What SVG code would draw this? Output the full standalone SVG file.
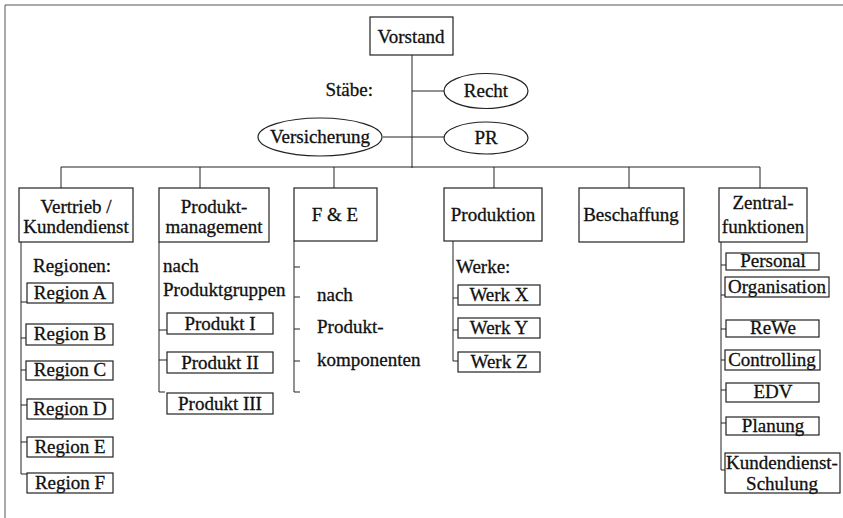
<svg xmlns="http://www.w3.org/2000/svg" width="843" height="518" viewBox="0 0 843 518">
<style>
text{font-family:"Liberation Serif","Times New Roman",serif;font-size:19px;fill:#111;stroke:#111;stroke-width:0.3}
.c{text-anchor:middle}
.b{fill:#fff;stroke:#222;stroke-width:1.2}
.l{fill:none;stroke:#222;stroke-width:1}
.f{fill:none;stroke:#555;stroke-width:1}
</style>
<rect width="843" height="518" fill="#fff"/>
<g id="frame"><path class="f" d="M5 518V5H843"/></g>
<g id="connectors">
<path class="l" d="M412 55V168M412 91H444M383 137H444"/>
<path class="l" d="M61 188V167H760V188M200 167V188M334 167V188M494 167V188M629 167V188"/>
<path class="l" d="M21 242V474M21 302H27M21 338H26M21 370H26M21 405H27M21 442H27M21 474H27"/>
<path class="l" d="M159 242V392H165M159 330H167M159 360H167"/>
<path class="l" d="M294 241V392H300M294 267H300M294 297H300M294 329H300M294 361H300"/>
<path class="l" d="M453 241V361H458M453 298H458M453 330H458"/>
<path class="l" d="M721 242V470H725M721 265H726M721 295H725M721 329H726M721 360H725M721 390H726M721 423H726"/>
</g>
<g id="vorstand"><rect class="b" x="370" y="17" width="83" height="38"/><text class="c" x="411" y="43">Vorstand</text></g>
<g id="staebe"><text x="373" y="96" text-anchor="end">Stäbe:</text></g>
<g id="recht"><ellipse class="b" cx="486" cy="91" rx="42" ry="17.5"/><text class="c" x="486" y="97">Recht</text></g>
<g id="versicherung"><ellipse class="b" cx="320" cy="137" rx="62" ry="19"/><text class="c" x="320" y="143">Versicherung</text></g>
<g id="pr"><ellipse class="b" cx="486" cy="138" rx="42" ry="16"/><text class="c" x="486" y="144">PR</text></g>

<g id="vertrieb"><rect class="b" x="19" y="188" width="114" height="54"/><text class="c" x="76" y="213">Vertrieb /</text><text class="c" x="76" y="233">Kundendienst</text></g>
<g id="produktmanagement"><rect class="b" x="159" y="188" width="110" height="54"/><text class="c" x="214" y="213">Produkt-</text><text class="c" x="214" y="233">management</text></g>
<g id="fe"><rect class="b" x="294" y="188" width="83" height="53"/><text class="c" x="335" y="221">F &amp; E</text></g>
<g id="produktion"><rect class="b" x="444" y="188" width="98" height="53"/><text class="c" x="493" y="221">Produktion</text></g>
<g id="beschaffung"><rect class="b" x="579" y="188" width="105" height="54"/><text class="c" x="631" y="221">Beschaffung</text></g>
<g id="zentralfunktionen"><rect class="b" x="719" y="188" width="88" height="54"/><text class="c" x="763" y="209">Zentral-</text><text class="c" x="763" y="233">funktionen</text></g>

<g id="regionen-label"><text x="33" y="272">Regionen:</text></g>
<g id="region-a"><rect class="b" x="27" y="283" width="86" height="20"/><text class="c" x="70" y="299">Region A</text></g>
<g id="region-b"><rect class="b" x="26" y="324" width="87" height="21"/><text class="c" x="70" y="340">Region B</text></g>
<g id="region-c"><rect class="b" x="26" y="361" width="87" height="19"/><text class="c" x="70" y="376">Region C</text></g>
<g id="region-d"><rect class="b" x="27" y="399" width="86" height="20"/><text class="c" x="70" y="415">Region D</text></g>
<g id="region-e"><rect class="b" x="27" y="437" width="86" height="20"/><text class="c" x="70" y="453">Region E</text></g>
<g id="region-f"><rect class="b" x="27" y="473" width="86" height="20"/><text class="c" x="70" y="489">Region F</text></g>

<g id="pm-label"><text x="163" y="272">nach</text><text x="163" y="296">Produktgruppen</text></g>
<g id="produkt-1"><rect class="b" x="167" y="313" width="106" height="21"/><text class="c" x="220" y="330">Produkt I</text></g>
<g id="produkt-2"><rect class="b" x="167" y="352" width="106" height="21"/><text class="c" x="220" y="369">Produkt II</text></g>
<g id="produkt-3"><rect class="b" x="167" y="393" width="106" height="21"/><text class="c" x="220" y="410">Produkt III</text></g>

<g id="fe-label"><text x="317" y="301">nach</text><text x="317" y="333">Produkt-</text><text x="317" y="366">komponenten</text></g>

<g id="werke-label"><text x="456" y="273">Werke:</text></g>
<g id="werk-x"><rect class="b" x="458" y="285" width="82" height="20"/><text class="c" x="499" y="301">Werk X</text></g>
<g id="werk-y"><rect class="b" x="458" y="318" width="82" height="20"/><text class="c" x="499" y="334">Werk Y</text></g>
<g id="werk-z"><rect class="b" x="458" y="352" width="82" height="20"/><text class="c" x="499" y="368">Werk Z</text></g>

<g id="personal"><rect class="b" x="726" y="253" width="93" height="17"/><text class="c" x="773" y="267">Personal</text></g>
<g id="organisation"><rect class="b" x="725" y="277" width="104" height="20"/><text class="c" x="777" y="293">Organisation</text></g>
<g id="rewe"><rect class="b" x="726" y="320" width="93" height="17"/><text class="c" x="773" y="334">ReWe</text></g>
<g id="controlling"><rect class="b" x="725" y="350" width="95" height="20"/><text class="c" x="772" y="366">Controlling</text></g>
<g id="edv"><rect class="b" x="726" y="383" width="93" height="19"/><text class="c" x="773" y="398">EDV</text></g>
<g id="planung"><rect class="b" x="726" y="417" width="93" height="18"/><text class="c" x="773" y="432">Planung</text></g>
<g id="kundendienst-schulung"><rect class="b" x="725" y="453" width="115" height="40"/><text class="c" x="782" y="469">Kundendienst-</text><text class="c" x="782" y="490">Schulung</text></g>
</svg>
